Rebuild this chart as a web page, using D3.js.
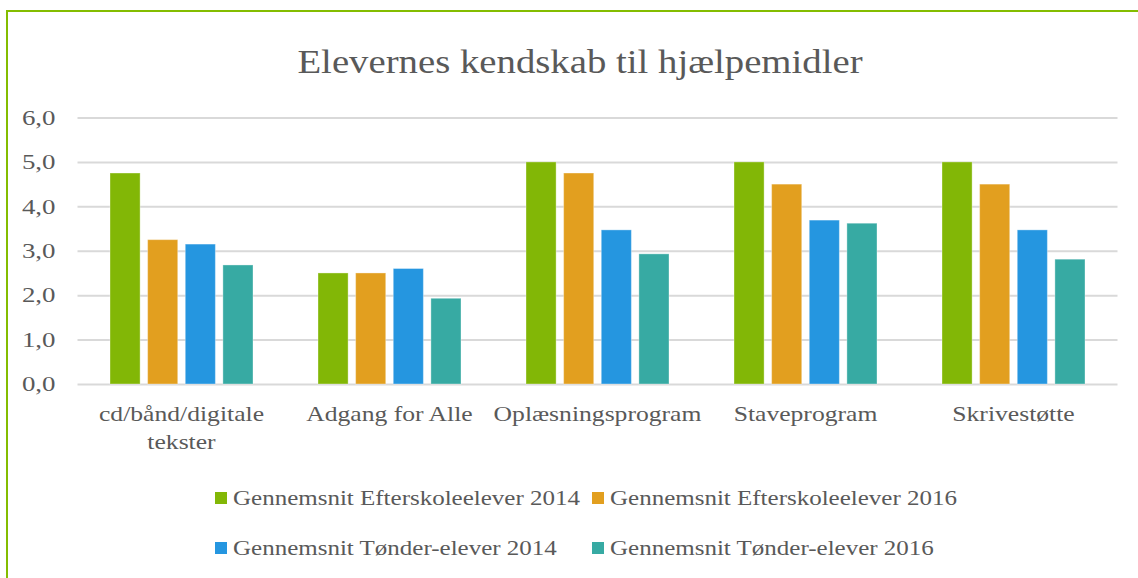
<!DOCTYPE html>
<html>
<head>
<meta charset="utf-8">
<script src="https://cdn.jsdelivr.net/npm/d3@7"></script>
<style>
  body { margin: 0; background: #fff; }
</style>
</head>
<body>
<svg id="chart" width="1138" height="578"></svg>
<script>
const categories = [
  ["cd/bånd/digitale", "tekster"],
  ["Adgang for Alle"],
  ["Oplæsningsprogram"],
  ["Staveprogram"],
  ["Skrivestøtte"]
];
const seriesNames = [
  "Gennemsnit Efterskoleelever 2014",
  "Gennemsnit Efterskoleelever 2016",
  "Gennemsnit Tønder-elever 2014",
  "Gennemsnit Tønder-elever 2016"
];
const efterskole2014 = [4.75, 2.5, 5.0, 5.0, 5.0];
const efterskole2016 = [3.25, 2.5, 4.75, 4.5, 4.5];
const tonder2014 = [3.15, 2.6, 3.47, 3.69, 3.47];
const tonder2016 = [2.68, 1.93, 2.93, 3.62, 2.81];
const yTicks = [0, 1, 2, 3, 4, 5, 6];

const colors = ["#82b706", "#e29f1f", "#2596e0", "#37aaa3"];
const allSeries = [efterskole2014, efterskole2016, tonder2014, tonder2016];
const FONT = "'Liberation Serif', 'Tinos', 'Times New Roman', 'DejaVu Serif', serif";

// the original font (Cambria-like) is wider than Times, so widen the glyphs a bit
function stretch(sel, k) {
  sel.each(function () {
    const w = this.getComputedTextLength();
    d3.select(this)
      .attr("textLength", w * k)
      .attr("lengthAdjust", "spacingAndGlyphs");
  });
}

const svg = d3.select("#chart");

// border
svg.append("rect")
  .attr("x", 7).attr("y", 11)
  .attr("width", 1140).attr("height", 580)
  .attr("fill", "none")
  .attr("stroke", "#84bd00")
  .attr("stroke-width", 2);

svg.append("text")
  .attr("x", 580).attr("y", 73)
  .attr("text-anchor", "middle")
  .attr("font-family", FONT)
  .attr("font-size", 34)
  .attr("fill", "#595959")
  .text("Elevernes kendskab til hjælpemidler")
  .call(stretch, 1.14);

const x0 = d3.scaleBand()
  .domain(d3.range(categories.length))
  .range([77.5, 1117.5]);

const x1 = d3.scaleBand()
  .domain(d3.range(seriesNames.length))
  .range([32.5, 175.5])
  .paddingInner(0.2);

const y = d3.scaleLinear().domain([0, 6]).range([384, 117.5]);

const yAxis = d3.axisLeft(y)
  .tickValues(yTicks)
  .tickSize(-(1117.5 - 77.5))
  .tickPadding(22)
  .tickFormat(d => d3.format(".1f")(d).replace(".", ","));

const gy = svg.append("g")
  .attr("transform", "translate(77.5,0)")
  .call(yAxis)
  .attr("font-family", FONT)
  .attr("font-size", 21);
gy.select(".domain").remove();
gy.selectAll(".tick line").attr("stroke", "#d9d9d9").attr("stroke-width", 2);
gy.selectAll(".tick text").attr("fill", "#595959").call(stretch, 1.28);

const groups = svg.append("g")
  .selectAll("g")
  .data(categories.map((c, i) => i))
  .enter()
  .append("g")
  .attr("transform", (i) => `translate(${x0(i)},0)`);

groups.selectAll("rect")
  .data((i) => allSeries.map((s, k) => ({ k: k, v: s[i] })))
  .enter()
  .append("rect")
  .attr("x", (d) => x1(d.k))
  .attr("y", (d) => y(d.v))
  .attr("width", x1.bandwidth())
  .attr("height", (d) => y(0) - y(d.v))
  .attr("fill", (d) => colors[d.k])
  .attr("stroke", "rgba(255,255,255,0.35)")
  .attr("stroke-width", 1);

// category labels, one text per line
const catLines = [];
categories.forEach((lines, i) => {
  lines.forEach((t, j) => catLines.push({ i: i, j: j, t: t }));
});

svg.append("g")
  .attr("font-family", FONT)
  .attr("font-size", 21)
  .attr("fill", "#595959")
  .selectAll("text")
  .data(catLines)
  .enter()
  .append("text")
  .attr("text-anchor", "middle")
  .attr("x", (d) => x0(d.i) + x0.bandwidth() / 2)
  .attr("y", (d) => 421 + d.j * 28)
  .text((d) => d.t)
  .call(stretch, 1.22);

// legend
const legendPos = [[215, 492], [592, 492], [215, 542], [592, 542]];
const legend = svg.append("g")
  .attr("font-family", FONT)
  .attr("font-size", 21)
  .attr("fill", "#595959")
  .selectAll("g")
  .data(seriesNames)
  .enter()
  .append("g")
  .attr("transform", (d, i) => `translate(${legendPos[i][0]},${legendPos[i][1]})`);

legend.append("rect")
  .attr("width", 12).attr("height", 12)
  .attr("fill", (d, i) => colors[i]);

legend.append("text")
  .attr("x", 18).attr("y", 13)
  .text((d) => d)
  .call(stretch, 1.19);
</script>
</body>
</html>
